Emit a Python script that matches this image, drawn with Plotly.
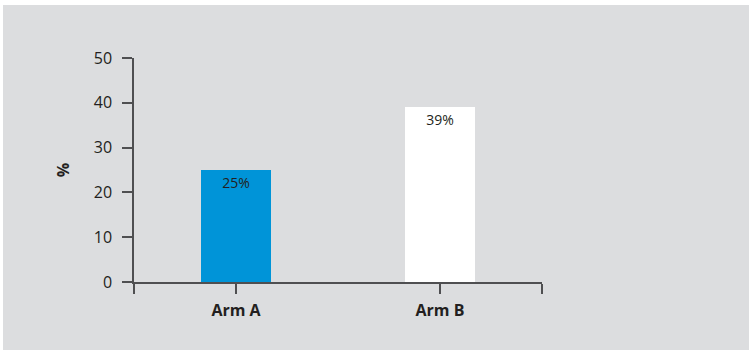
import plotly.graph_objects as go

# Chart data
categories = ["Arm A", "Arm B"]
values = [25, 39]
bar_colors = ["#0094d8", "#ffffff"]
y_ticks = [0, 10, 20, 30, 40, 50]

W, H = 749, 350
ML, MR, MT, MB = 134, 207, 58, 68
BG = "#dcdddf"
AXIS = "#4f4f51"
TEXT = "#231f20"
FONT = "Open Sans"

x_pos = list(range(len(categories)))
plot_w = W - ML - MR
plot_h = H - MT - MB

fig = go.Figure(
    go.Bar(
        x=x_pos,
        y=values,
        width=0.34,
        marker=dict(color=bar_colors, line=dict(width=0)),
        texttemplate="%{y}%",
        textposition="inside",
        insidetextanchor="end",
        textangle=0,
        textfont=dict(family=FONT, size=14, color=TEXT),
        cliponaxis=False,
        showlegend=False,
    )
)

fig.update_layout(
    width=W,
    height=H,
    margin=dict(l=ML, r=MR, t=MT, b=MB, pad=0),
    paper_bgcolor=BG,
    plot_bgcolor=BG,
    font=dict(family=FONT, color=TEXT),
    bargap=0,
    xaxis=dict(
        range=[-0.5, len(categories) - 0.5],
        tickmode="array",
        tickvals=[-0.5] + x_pos + [len(categories) - 0.5],
        ticktext=[""] + categories + [""],
        ticks="outside",
        ticklen=10,
        tickwidth=1.5,
        tickcolor=AXIS,
        showline=True,
        linecolor=AXIS,
        linewidth=1.5,
        showgrid=False,
        zeroline=False,
        ticklabelstandoff=3,
        tickfont=dict(family=FONT, size=16, color=TEXT, weight="bold"),
        fixedrange=True,
    ),
    yaxis=dict(
        range=[0, 50],
        tickmode="array",
        tickvals=y_ticks,
        ticks="outside",
        ticklen=10,
        tickwidth=1.5,
        tickcolor=AXIS,
        showline=True,
        linecolor=AXIS,
        linewidth=1.5,
        showgrid=False,
        zeroline=False,
        ticklabelstandoff=7,
        tickfont=dict(family=FONT, size=16, color=TEXT),
        title=dict(text="%", font=dict(family=FONT, size=16, color=TEXT, weight="bold"), standoff=20),
        fixedrange=True,
    ),
    shapes=[
        # thin white strips along the top and left edges of the page
        dict(type="rect", xref="paper", yref="paper",
             x0=-ML / plot_w, x1=(3 - ML) / plot_w, y0=-MB / plot_h, y1=1 + MT / plot_h,
             fillcolor="#ffffff", line=dict(width=0), layer="below"),
        dict(type="rect", xref="paper", yref="paper",
             x0=-ML / plot_w, x1=1 + MR / plot_w, y0=1 + (MT - 5) / plot_h, y1=1 + MT / plot_h,
             fillcolor="#ffffff", line=dict(width=0), layer="below"),
    ],
)

fig.write_html("out.html", config={"displayModeBar": False})
